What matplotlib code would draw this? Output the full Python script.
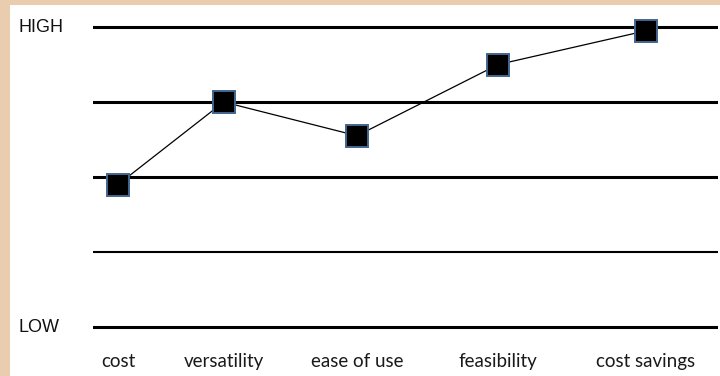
import matplotlib
matplotlib.use("Agg")
import matplotlib.pyplot as plt
from matplotlib.patches import Rectangle

# Ratings of each attribute on a LOW (0) to HIGH (4) scale
categories = ["cost", "versatility", "ease of use", "feasibility", "cost savings"]
ratings = [1.9, 3.0, 2.55, 3.5, 3.95]
x_pos = [1.0, 1.80, 2.81, 3.88, 5.0]
levels = [0, 1, 2, 3, 4]
level_labels = {0: "LOW", 4: "HIGH"}

W, H = 720, 376
fig = plt.figure(figsize=(W / 100, H / 100), dpi=100)
fig.patch.set_facecolor("#EACDAF")

# white panel inside the tan frame
fig.add_artist(Rectangle((10 / W, 0), 1 - 10 / W, 1 - 5 / H,
                         transform=fig.transFigure, facecolor="white",
                         edgecolor="none", zorder=0))

left_px, right_px = 93, 718
top_px, bot_px = 15, 340
ax = fig.add_axes([left_px / W, 1 - bot_px / H,
                   (right_px - left_px) / W, (bot_px - top_px) / H])
ax.set_facecolor("none")
ax.set_xlim(0.81, 5.545)
ax.set_ylim(-0.173, 4.16)

for lv in levels:
    lw = 1.5 if lv == 1 else 2.2
    ax.axhline(lv, color="black", lw=lw, zorder=1)

ax.plot(x_pos, ratings, color="black", lw=0.9, marker="s", markersize=15.5,
        markerfacecolor="black", markeredgecolor="#42658F",
        markeredgewidth=1.4, zorder=3, clip_on=False)

ax.set_xticks(x_pos, categories, fontsize=13.5, family="Lato", color="#1a1a1a")
ax.tick_params(axis="x", length=0, pad=9.5)
ax.set_yticks([])
for s in ax.spines.values():
    s.set_visible(False)

for lv, txt in level_labels.items():
    y_fig = ax.transData.transform((0, lv))[1]
    fig.text(18 / W, y_fig / H, txt, ha="left", va="center",
             fontsize=13, family="Liberation Sans", color="#111111")

fig.savefig("out.png", dpi=100, facecolor=fig.get_facecolor())
